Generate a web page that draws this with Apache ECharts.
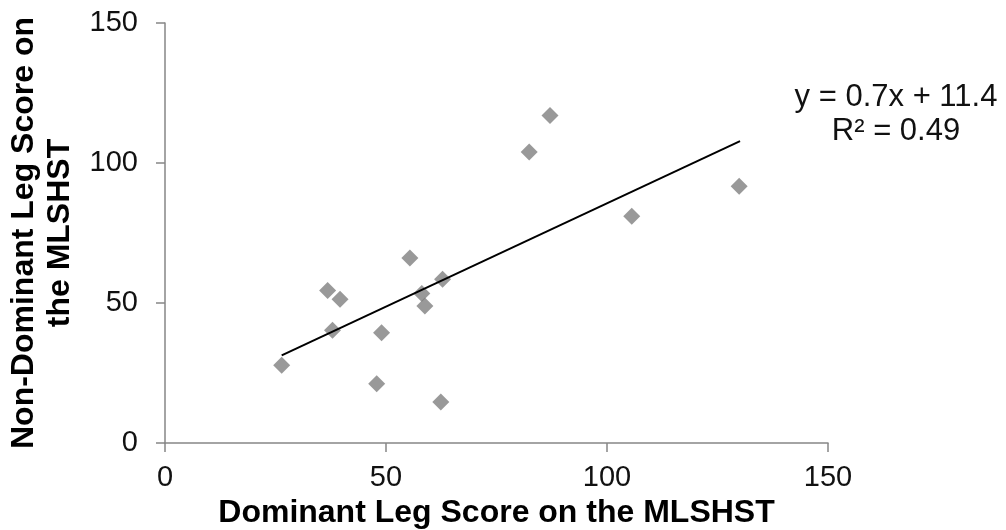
<!DOCTYPE html>
<html><head><meta charset="utf-8">
<script src="https://cdn.jsdelivr.net/npm/echarts@6/dist/echarts.min.js"></script>
<style>html,body{margin:0;padding:0;background:#fff}#c{width:1006px;height:530px}</style>
</head><body><div id="c"></div>
<script>
// Data
const dominantScore    = [26.4, 36.8, 39.6, 37.9, 49.0, 47.9, 55.4, 58.1, 58.8, 62.8, 62.4, 82.4, 87.1, 105.6, 129.9];
const nonDominantScore = [27.8, 54.5, 51.3, 40.3, 39.4, 21.2, 66.1, 53.4, 48.9, 58.5, 14.6, 103.9, 117.0, 81.0, 91.7];
const trendX = [26.4, 130.1];
const trendY = [31.3, 107.8];
const axisMin = 0, axisMax = 150, axisStep = 50;
const equationLines = ['y = 0.7x + 11.4', 'R² = 0.49'];
const xTitle = 'Dominant Leg Score on the MLSHST';
const yTitle = 'Non-Dominant Leg Score on\nthe MLSHST';

const FONT = 'Liberation Sans, Arial, sans-serif';
const points = dominantScore.map((x, i) => [x, nonDominantScore[i]]);
const trend = trendX.map((x, i) => [x, trendY[i]]);

const axisCommon = {
  type: 'value', min: axisMin, max: axisMax, interval: axisStep,
  splitLine: {show: false},
  axisLine: {show: true, onZero: false, lineStyle: {color: '#868686', width: 1.5}},
  axisTick: {show: true, length: 9, lineStyle: {color: '#868686', width: 1.5}},
  nameLocation: 'middle'
};

const chart = echarts.init(document.getElementById('c'), null, {renderer: 'canvas'});
chart.setOption({
  animation: false,
  backgroundColor: '#fff',
  grid: {left: 165, right: 178, top: 23, bottom: 87, containLabel: false, outerBoundsMode: 'none'},
  xAxis: Object.assign({}, axisCommon, {
    name: xTitle, nameGap: 47,
    nameTextStyle: {fontFamily: FONT, fontWeight: 'bold', fontSize: 32, color: '#000'},
    axisLabel: {margin: 20, fontFamily: FONT, fontSize: 29, color: '#111'}
  }),
  yAxis: Object.assign({}, axisCommon, {
    name: yTitle, nameGap: 87, nameRotate: 90,
    nameTextStyle: {fontFamily: FONT, fontWeight: 'bold', fontSize: 32, color: '#000', lineHeight: 36},
    axisLabel: {margin: 27, fontFamily: FONT, fontSize: 29, color: '#111'}
  }),
  series: [
    {
      type: 'scatter', data: points, symbol: 'diamond', symbolSize: 17,
      itemStyle: {color: '#7f7f7f'}, z: 3
    },
    {
      type: 'line', data: trend, symbol: 'none', lineStyle: {color: '#000', width: 2}, z: 4
    }
  ],
  graphic: [{
    type: 'text', x: 896, y: 80,
    style: {text: equationLines.join('\n'), font: '31px ' + FONT, fill: '#111', align: 'center', verticalAlign: 'top', lineHeight: 34}
  }]
});
</script></body></html>
